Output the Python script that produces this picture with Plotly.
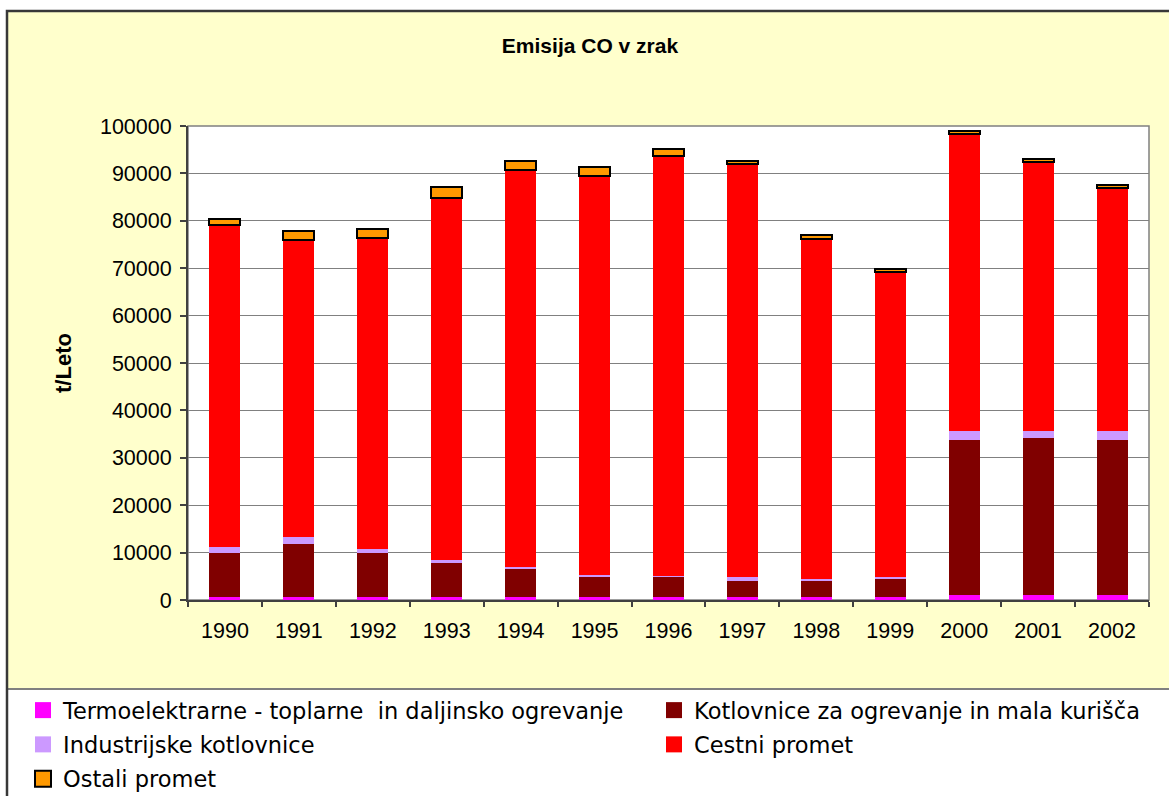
import plotly.graph_objects as go

# ---- data ----
years = ["1990", "1991", "1992", "1993", "1994", "1995", "1996",
         "1997", "1998", "1999", "2000", "2001", "2002"]
termo = [700, 700, 700, 700, 700, 700, 700, 700, 700, 700, 1100, 1100, 1100]
kotlovnice = [9300, 11130, 9300, 7140, 5880, 4200, 4230, 3370, 3370, 3800, 32740, 33160, 32740]
industrijske = [1200, 1470, 780, 630, 420, 420, 220, 860, 420, 430, 1860, 1440, 1860]
cestni = [67830, 62710, 65650, 76400, 83780, 84190, 88440, 87050, 71730, 64330, 62610, 56700, 51130]
ostali = [1350, 1840, 1840, 2260, 1840, 1840, 1560, 640, 850, 570, 700, 700, 790]

names = ["Termoelektrarne - toplarne  in daljinsko ogrevanje",
         "Kotlovnice za ogrevanje in mala kurišča",
         "Industrijske kotlovnice",
         "Cestni promet",
         "Ostali promet"]
colors = ["#FF00FF", "#800000", "#CC99FF", "#FF0000", "#FF9900"]
series = [termo, kotlovnice, industrijske, cestni, ostali]
legend_of = ["legend", "legend2", "legend", "legend2", "legend"]

title_text = "Emisija CO v zrak"
ytitle_text = "t/Leto"

# ---- layout geometry ----
W, H = 1169, 796
L, R, T, B = 188, 20, 126, 196
PW, PH = W - L - R, H - T - B


def px_x(px):
    return (px - L) / PW


def px_y(py):
    return (H - B - py) / PH


fig = go.Figure()

for i, (name, vals, col) in enumerate(zip(names, series, colors)):
    is_ostali = i == 4
    fig.add_trace(go.Bar(
        x=years, y=vals, name=name,
        marker=dict(color=col,
                    line=dict(color="#000000", width=2 if is_ostali else 0)),
        showlegend=False,
    ))

# legend entries (16px squares like the reference)
for i, (name, col) in enumerate(zip(names, colors)):
    is_ostali = i == 4
    fig.add_trace(go.Scatter(
        x=[None], y=[None], mode="markers", name=name,
        marker=dict(symbol="square", size=16, color=col,
                    line=dict(color="#000000", width=2 if is_ostali else 0)),
        legend=legend_of[i], legendgroup=f"g{i}", showlegend=True,
    ))

legend_font = dict(family="DejaVu Sans", size=22.5, color="#000000")

fig.update_layout(
    width=W, height=H,
    margin=dict(l=L, r=R, t=T, b=B, autoexpand=False),
    paper_bgcolor="#FFFFFF",
    plot_bgcolor="#FFFFFF",
    barmode="stack",
    bargap=0.58,
    title=dict(text=title_text, x=590 / W, xanchor="center", xref="container",
               y=1 - 46 / H, yanchor="middle", yref="container",
               font=dict(family="Liberation Sans", size=21, color="#000000", weight="bold")),
    legend=dict(x=px_x(23), xanchor="left", y=px_y(689), yanchor="top",
                orientation="v", bgcolor="rgba(0,0,0,0)", borderwidth=0,
                font=legend_font, tracegroupgap=2, itemsizing="trace"),
    legend2=dict(x=px_x(654), xanchor="left", y=px_y(689), yanchor="top",
                 orientation="v", bgcolor="rgba(0,0,0,0)", borderwidth=0,
                 font=legend_font, tracegroupgap=2, itemsizing="trace"),
    xaxis=dict(type="category", showgrid=False, showline=True, linecolor="#404040",
               linewidth=2, ticks="outside", ticklen=5, tickwidth=1.5, tickcolor="#404040",
               tickson="boundaries", ticklabelstandoff=10,
               tickfont=dict(family="Liberation Sans", size=21.5, color="#000000")),
    yaxis=dict(range=[0, 100000], dtick=10000, tickformat="d", showgrid=True,
               gridcolor="#808080", gridwidth=1.3, showline=True, linecolor="#404040",
               linewidth=2, ticks="outside", ticklen=6, tickwidth=1.5, tickcolor="#404040",
               ticklabelstandoff=4, zeroline=False,
               tickfont=dict(family="Liberation Sans", size=21.5, color="#000000"),
               title=dict(text=ytitle_text, standoff=22,
                          font=dict(family="Liberation Sans", size=22, color="#000000",
                                    weight="bold"))),
    shapes=[
        dict(type="rect", xref="paper", yref="paper", layer="below",
             x0=px_x(7), x1=px_x(1185), y0=px_y(689), y1=px_y(11),
             fillcolor="#FFFFCC", line=dict(width=0)),
        dict(type="rect", xref="paper", yref="paper", layer="below",
             x0=0, x1=1, y0=0, y1=1,
             fillcolor="#FFFFFF", line=dict(color="#808080", width=1.5)),
        dict(type="line", xref="paper", yref="paper", layer="above",
             x0=px_x(7), x1=px_x(1185), y0=px_y(689), y1=px_y(689),
             line=dict(color="#808080", width=2)),
        dict(type="rect", xref="paper", yref="paper", layer="above",
             x0=px_x(7), x1=px_x(1190), y0=px_y(810), y1=px_y(11),
             fillcolor="rgba(0,0,0,0)", line=dict(color="#383838", width=2.5)),
    ],
)

fig.write_html("out.html",
               config={"displayModeBar": False},
               post_script="document.body.style.margin='0';document.body.style.overflow='hidden';")
